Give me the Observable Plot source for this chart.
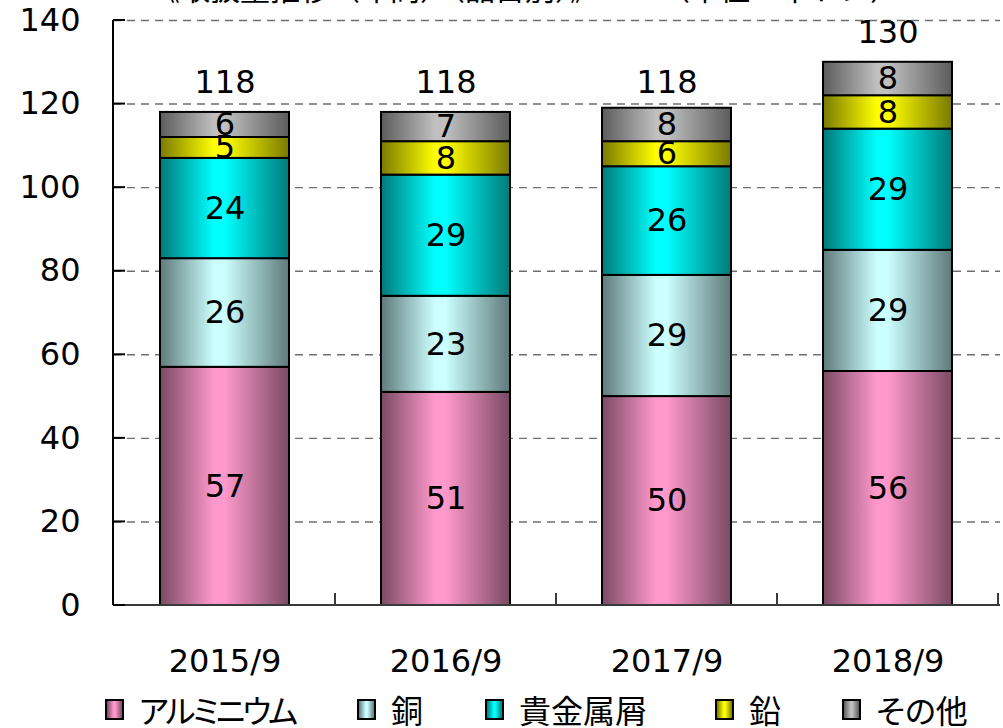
<!DOCTYPE html>
<html>
<head>
<meta charset="utf-8">
<script src="https://cdn.jsdelivr.net/npm/d3@7"></script>
<script src="https://cdn.jsdelivr.net/npm/@observablehq/plot@0.6"></script>
<style>
  html, body { margin: 0; padding: 0; background: #fff; width: 1003px; height: 728px; overflow: hidden; }
  #wrap { position: relative; width: 1003px; height: 728px; }
  #title { position: absolute; left: 150px; top: -29px; font-family: "Noto Sans CJK JP"; font-size: 30px; line-height: 32px; white-space: pre; color: #000; }
  #chart { position: absolute; left: 0; top: 0; }
  #legend { position: absolute; left: 0; top: 691px; width: 1003px; height: 36px; display: flex; align-items: center;
            font-family: "Noto Sans CJK JP"; font-size: 32px; line-height: 36px; font-feature-settings: "palt"; color: #000; }
  .item { display: flex; align-items: center; }
  .sw { width: 19px; height: 21px; border: 2px solid #000; box-sizing: border-box; margin-right: 15px; }
</style>
</head>
<body>
<div id="wrap">
  <div id="chart"></div>
  <div id="title">《取扱量推移（年間）（品目別）》　　　（単位：千トン）</div>
  <div id="legend"></div>
</div>
<script>
// ---- data ----
const years = ["2015/9", "2016/9", "2017/9", "2018/9"];
const categories = ["アルミニウム", "銅", "貴金属屑", "鉛", "その他"];
const aluminium = [57, 51, 50, 56];
const copper = [26, 23, 29, 29];
const precious = [24, 29, 26, 29];
const lead = [5, 8, 6, 8];
const other = [6, 7, 8, 8];
const totals = [118, 118, 118, 130];
const yTicks = [0, 20, 40, 60, 80, 100, 120, 140];

// ---- palette (light centre, dark edges) ----
const lightColors = ["#ff99cc", "#ccffff", "#00ffff", "#ffff00", "#c0c0c0"];
const darkColors  = ["#7a4a63", "#5f7a7a", "#007a7a", "#7a7a00", "#5c5c5c"];
const gradIds = categories.map((c, i) => "grad" + i);

const seriesValues = [aluminium, copper, precious, lead, other];
const rows = [];
categories.forEach((c, ci) => years.forEach((y, yi) => rows.push({year: y, category: c, value: seriesValues[ci][yi]})));
const totalRows = years.map((y, i) => ({year: y, total: totals[i]}));

function gradientDefs() {
  const g = d3.create("svg:g");
  const defs = g.append("defs");
  gradIds.forEach((id, i) => {
    const lg = defs.append("linearGradient").attr("id", id).attr("x1", "0").attr("x2", "1").attr("y1", "0").attr("y2", "0");
    [[0, darkColors[i]], [0.42, lightColors[i]], [0.5, lightColors[i]], [1, darkColors[i]]].forEach(([o, c]) =>
      lg.append("stop").attr("offset", o).attr("stop-color", c));
  });
  return g.node();
}

function axisFrame(index, scales, values, dims) {
  const {x, y} = scales;
  const {width, height, marginLeft, marginRight, marginBottom} = dims;
  const left = marginLeft, right = width - marginRight, bottom = height - marginBottom;
  const g = d3.create("svg:g").attr("fill", "none");
  g.append("line").attr("x1", left).attr("x2", right).attr("y1", bottom).attr("y2", bottom)
    .attr("stroke", "#3a3a3a").attr("stroke-width", 2);
  g.append("line").attr("x1", left).attr("x2", left).attr("y1", y(140)).attr("y2", bottom)
    .attr("stroke", "#000").attr("stroke-width", 2);
  yTicks.forEach(t => g.append("line").attr("x1", left).attr("x2", left + 12).attr("y1", y(t)).attr("y2", y(t))
    .attr("stroke", "#000").attr("stroke-width", 2));
  const step = x.step();
  const bw = x.bandwidth();
  const bounds = years.map(d => x(d) + bw / 2 - step / 2);
  bounds.push(x(years[years.length - 1]) + bw / 2 + step / 2);
  bounds.slice(1).forEach(b => g.append("line").attr("x1", b).attr("x2", b).attr("y1", bottom).attr("y2", bottom - 12)
    .attr("stroke", "#3a3a3a").attr("stroke-width", 2));
  return g.node();
}

const chart = Plot.plot({
  width: 1003,
  height: 692,
  marginTop: 20,
  marginBottom: 87,
  marginLeft: 113,
  marginRight: 3,
  style: {fontFamily: "'DejaVu Sans', Verdana, sans-serif", fontSize: "32px", background: "transparent", color: "#000"},
  x: {domain: years, paddingInner: 0.415, paddingOuter: 0.2075, label: null},
  y: {domain: [0, 140], label: null},
  color: {domain: categories, range: gradIds.map(id => `url(#${id})`)},
  marks: [
    gradientDefs,
    Plot.ruleY(yTicks.filter(t => t > 0), {stroke: "#6f6f6f", strokeWidth: 1.4, strokeDasharray: "8,6"}),
    Plot.barY(rows, {x: "year", y: "value", fill: "category", z: "category", stroke: "#000", strokeWidth: 2}),
    Plot.text(rows, Plot.stackY({x: "year", y: "value", z: "category", text: "value", fill: "#000", fontSize: 32})),
    Plot.text(totalRows, {x: "year", y: "total", text: "total", dy: -30, fill: "#000", fontSize: 32}),
    Plot.axisY({ticks: yTicks, tickSize: 0, tickPadding: 33, fontSize: 32, fill: "#000", label: null}),
    Plot.axisX({tickSize: 0, tickPadding: 44, fontSize: 32, fill: "#000", label: null}),
    axisFrame
  ]
});
document.getElementById("chart").appendChild(chart);

// ---- legend ----
const legend = document.getElementById("legend");
const itemStarts = [105, 357, 485, 715, 842];
categories.forEach((c, i) => {
  const item = document.createElement("div");
  item.className = "item";
  item.style.position = "absolute";
  item.style.left = itemStarts[i] + "px";
  const sw = document.createElement("div");
  sw.className = "sw";
  sw.style.background = `linear-gradient(to right, ${darkColors[i]} 0%, ${lightColors[i]} 45%, ${lightColors[i]} 55%, ${darkColors[i]} 100%)`;
  const tx = document.createElement("span");
  tx.textContent = c;
  if (c.length > 4) tx.style.letterSpacing = "-3px";
  item.appendChild(sw);
  item.appendChild(tx);
  legend.appendChild(item);
});
</script>
</body>
</html>
